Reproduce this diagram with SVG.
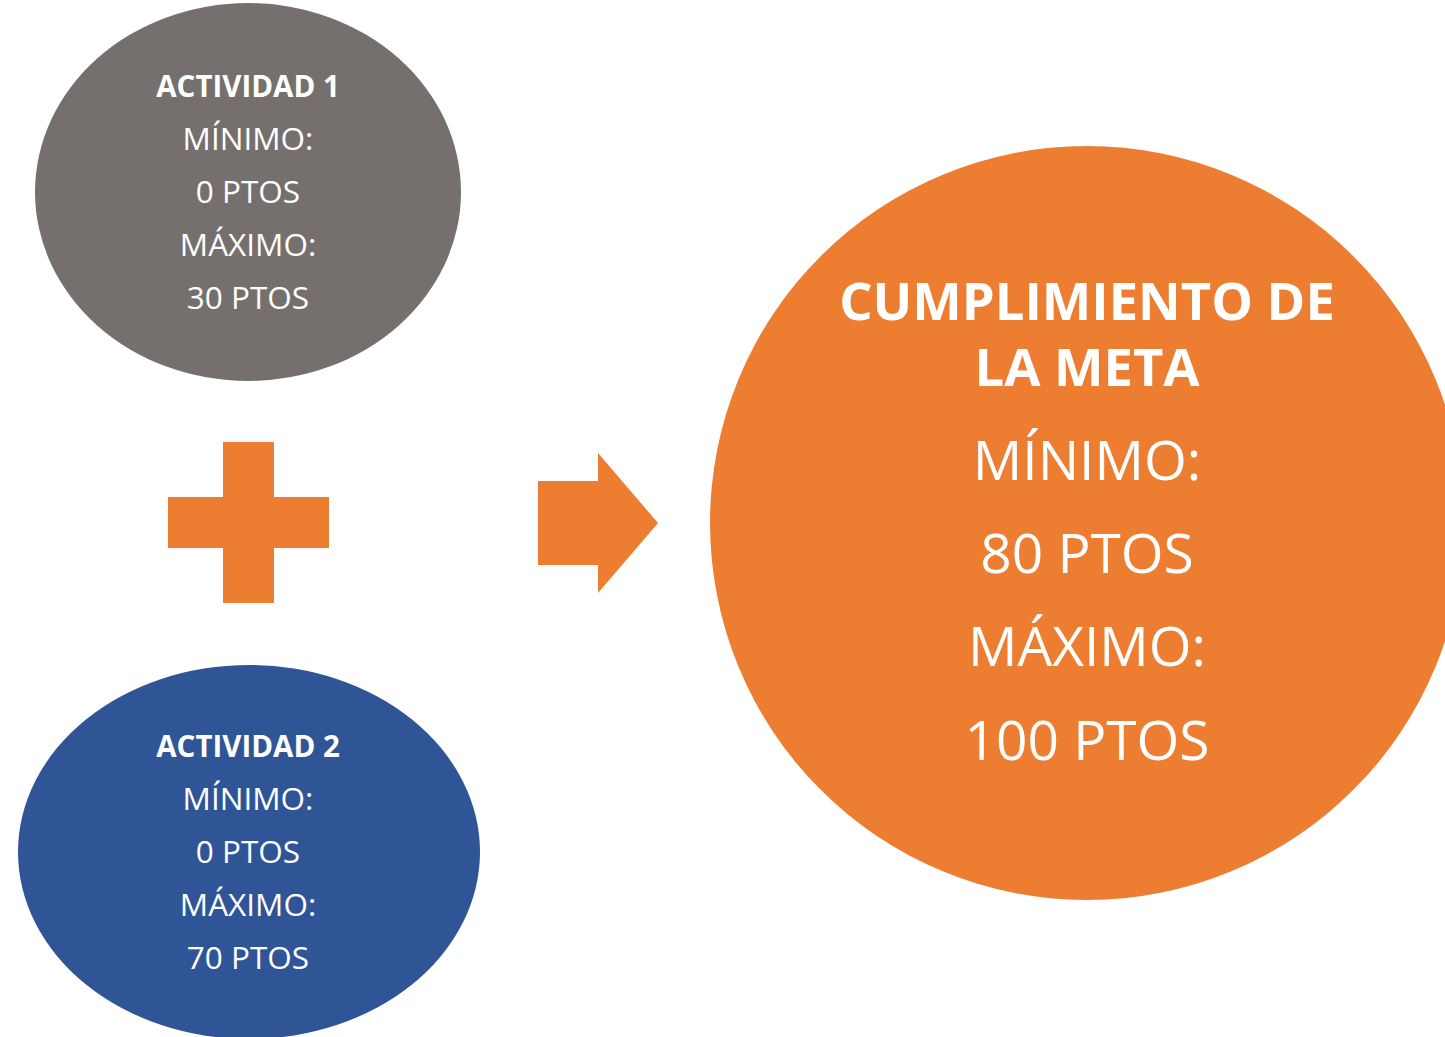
<svg xmlns="http://www.w3.org/2000/svg" width="1445" height="1037" viewBox="0 0 1445 1037">
<style>
text{font-family:"Open Sans","Noto Sans","Liberation Sans",sans-serif;fill:#fff;text-anchor:middle}
.b{font-weight:bold}
.s{font-size:31.5px}
.sb{font-size:29.5px}
.lb{font-size:52.5px}
.l{font-size:55px}
.or{fill:#ED7D31}
</style>
<rect width="1445" height="1037" fill="#fff"/>
<g id="actividad1">
<ellipse cx="248" cy="192" rx="213" ry="189" fill="#75706E"/>
<text x="248" y="97" class="b sb">ACTIVIDAD 1</text>
<text x="248" y="150" class="s">MÍNIMO:</text>
<text x="248" y="203" class="s">0 PTOS</text>
<text x="248" y="256" class="s">MÁXIMO:</text>
<text x="248" y="309" class="s">30 PTOS</text>
</g>
<g id="plus">
<path class="or" d="M223 442H274V497H329V548H274V603H223V548H168V497H223Z"/>
</g>
<g id="actividad2">
<ellipse cx="249" cy="852" rx="231" ry="187" fill="#2F5597"/>
<text x="248" y="757" class="b sb">ACTIVIDAD 2</text>
<text x="248" y="810" class="s">MÍNIMO:</text>
<text x="248" y="863" class="s">0 PTOS</text>
<text x="248" y="916" class="s">MÁXIMO:</text>
<text x="248" y="969" class="s">70 PTOS</text>
</g>
<g id="connectors">
<path class="or" d="M538 481H598V453L658 523L598 593V565H538Z"/>
</g>
<g id="meta">
<circle cx="1087" cy="523" r="377" class="or"/>
<text x="1087" y="320" class="b lb">CUMPLIMIENTO DE</text>
<text x="1087" y="386" class="b lb">LA META</text>
<text x="1087" y="480" class="l">MÍNIMO:</text>
<text x="1087" y="573" class="l">80 PTOS</text>
<text x="1087" y="666" class="l">MÁXIMO:</text>
<text x="1087" y="760" class="l">100 PTOS</text>
</g>
</svg>
